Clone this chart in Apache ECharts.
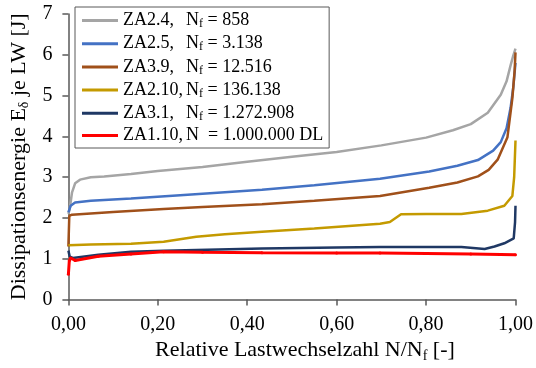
<!DOCTYPE html>
<html><head><meta charset="utf-8">
<script src="https://cdn.jsdelivr.net/npm/echarts@6/dist/echarts.min.js"></script>
<style>html,body{margin:0;padding:0;background:#fff}#c{width:536px;height:368px}</style>
</head><body><div id="c"></div>
<script>
const xTicks = [0, 0.2, 0.4, 0.6, 0.8, 1.0];
const yTicks = [0, 1, 2, 3, 4, 5, 6, 7];

const za24X = [0, 0.003, 0.008, 0.015, 0.026, 0.05, 0.08, 0.14, 0.2, 0.3, 0.4, 0.5, 0.6, 0.7, 0.8, 0.86, 0.9, 0.938, 0.967, 0.98, 0.989, 0.995, 1.0];
const za24Y = [2.1, 2.23, 2.62, 2.85, 2.94, 3.0, 3.02, 3.08, 3.15, 3.25, 3.38, 3.5, 3.62, 3.78, 3.97, 4.15, 4.3, 4.58, 5.02, 5.35, 5.74, 5.98, 6.15];

const za25X = [0, 0.005, 0.015, 0.05, 0.14, 0.25, 0.433, 0.55, 0.697, 0.807, 0.87, 0.916, 0.95, 0.967, 0.98, 0.989, 0.995, 1.0];
const za25Y = [2.14, 2.3, 2.38, 2.42, 2.48, 2.56, 2.69, 2.8, 2.96, 3.14, 3.28, 3.42, 3.65, 3.86, 4.2, 4.7, 5.2, 5.8];

const za39X = [0, 0.002, 0.008, 0.1, 0.213, 0.3, 0.433, 0.55, 0.697, 0.807, 0.87, 0.916, 0.94, 0.96, 0.982, 0.993, 0.998, 1.0];
const za39Y = [1.3, 2.05, 2.08, 2.15, 2.22, 2.27, 2.34, 2.42, 2.54, 2.74, 2.87, 3.02, 3.18, 3.43, 3.98, 4.94, 5.6, 6.06];

const za210X = [0, 0.05, 0.14, 0.213, 0.286, 0.35, 0.433, 0.55, 0.697, 0.719, 0.744, 0.8, 0.879, 0.938, 0.975, 0.993, 0.997, 1.0];
const za210Y = [1.33, 1.35, 1.37, 1.42, 1.54, 1.6, 1.66, 1.74, 1.86, 1.9, 2.09, 2.1, 2.1, 2.18, 2.3, 2.54, 3.0, 3.9];

const za31X = [0, 0.003, 0.01, 0.067, 0.14, 0.213, 0.433, 0.6, 0.697, 0.879, 0.931, 0.953, 0.975, 0.996, 0.999, 1.0];
const za31Y = [1.2, 1.05, 1.02, 1.1, 1.17, 1.2, 1.25, 1.28, 1.29, 1.29, 1.24, 1.3, 1.38, 1.5, 1.9, 2.3];

const za110X = [0, 0.002, 0.005, 0.015, 0.067, 0.14, 0.213, 0.3, 0.433, 0.6, 0.697, 0.8, 0.9, 1.0];
const za110Y = [0.62, 0.95, 1.02, 0.96, 1.06, 1.12, 1.17, 1.16, 1.15, 1.14, 1.14, 1.13, 1.12, 1.10];

const seriesNames = ['ZA2.4', 'ZA2.5', 'ZA3.9', 'ZA2.10', 'ZA3.1', 'ZA1.10'];
const seriesLabels = ['N_f = 858', 'N_f = 3.138', 'N_f = 12.516', 'N_f = 136.138', 'N_f = 1.272.908', 'N  = 1.000.000 DL'];
const colors = ['#A5A5A5', '#4472C4', '#A0501A', '#C49A00', '#1F3864', '#FF0000'];

const allX = [za24X, za25X, za39X, za210X, za31X, za110X];
const allY = [za24Y, za25Y, za39Y, za210Y, za31Y, za110Y];

const FONT = '"Liberation Serif", "Times New Roman", serif';

const series = seriesNames.map((n, i) => ({
  name: n,
  type: 'line',
  data: allX[i].map((x, k) => [x, allY[i][k]]),
  showSymbol: i === 5,
  symbol: 'circle',
  symbolSize: 3,
  lineStyle: { color: colors[i], width: i === 5 ? 3 : 2.5 },
  itemStyle: { color: colors[i] },
  animation: false,
  z: 2 + i
}));

const chart = echarts.init(document.getElementById('c'), null, { renderer: 'canvas' });
chart.setOption({
  animation: false,
  textStyle: { fontFamily: FONT },
  grid: { left: 63, right: 18, top: 14, bottom: 62 },
  legend: {
    orient: 'vertical',
    left: 75, top: 7,
    padding: [3, 6, 3, 7],
    itemGap: 3.2,
    itemWidth: 36, itemHeight: 3,
    itemTextGap: 12,
    icon: 'rect',
    borderColor: '#595959', borderWidth: 1,
    backgroundColor: '#fff',
    data: seriesNames,
    formatter: function (name) {
      const i = seriesNames.indexOf(name);
      const lab = seriesLabels[i];
      let rest;
      if (lab.startsWith('N_f')) rest = '{t|N}{s|f}{t|' + lab.slice(3) + '}';
      else rest = '{t|' + lab + '}';
      return '{id|' + name + ',}' + rest;
    },
    textStyle: {
      fontFamily: FONT, fontSize: 18, color: '#000', lineHeight: 19,
      rich: {
        id: { fontFamily: FONT, fontSize: 18, width: 63, color: '#000', lineHeight: 19 },
        t: { fontFamily: FONT, fontSize: 18, color: '#000', lineHeight: 19 },
        s: { fontFamily: FONT, fontSize: 12, color: '#000', verticalAlign: 'bottom', lineHeight: 19, padding: [8, 0, 0, 0] }
      }
    }
  },
  xAxis: {
    type: 'value', min: 0, max: 1, interval: 0.2,
    name: '{t|Relative Lastwechselzahl N/N}{s|f}{t| [-]}',
    nameLocation: 'middle', nameGap: 33,
    nameTextStyle: {
      padding: [0, 0, 0, 26],
      rich: {
        t: { fontFamily: FONT, fontSize: 22, color: '#000' },
        s: { fontFamily: FONT, fontSize: 14, color: '#000', verticalAlign: 'bottom', padding: [11, 0, 0, 0] }
      }
    },
    axisLine: { lineStyle: { color: '#595959', width: 1.5 } },
    axisTick: { show: true, length: 6, lineStyle: { color: '#595959', width: 1.5 } },
    axisLabel: {
      fontFamily: FONT, fontSize: 20, color: '#000', margin: 15,
      formatter: v => v.toFixed(2).replace('.', ',')
    },
    splitLine: { show: false }
  },
  yAxis: {
    type: 'value', min: 0, max: 7, interval: 1,
    name: '{t|Dissipationsenergie E}{s|δ}{t| je LW [J]}',
    nameLocation: 'middle', nameGap: 33, nameRotate: 90,
    nameTextStyle: {
      rich: {
        t: { fontFamily: FONT, fontSize: 22, color: '#000' },
        s: { fontFamily: FONT, fontSize: 14, color: '#000', verticalAlign: 'bottom', padding: [11, 0, 0, 0] }
      }
    },
    axisLine: { show: true, lineStyle: { color: '#595959', width: 1.5 } },
    axisTick: { show: true, length: 6, lineStyle: { color: '#595959', width: 1.5 } },
    axisLabel: { fontFamily: FONT, fontSize: 20, color: '#000', margin: 16 },
    splitLine: { show: false }
  },
  series: series
});
</script></body></html>
